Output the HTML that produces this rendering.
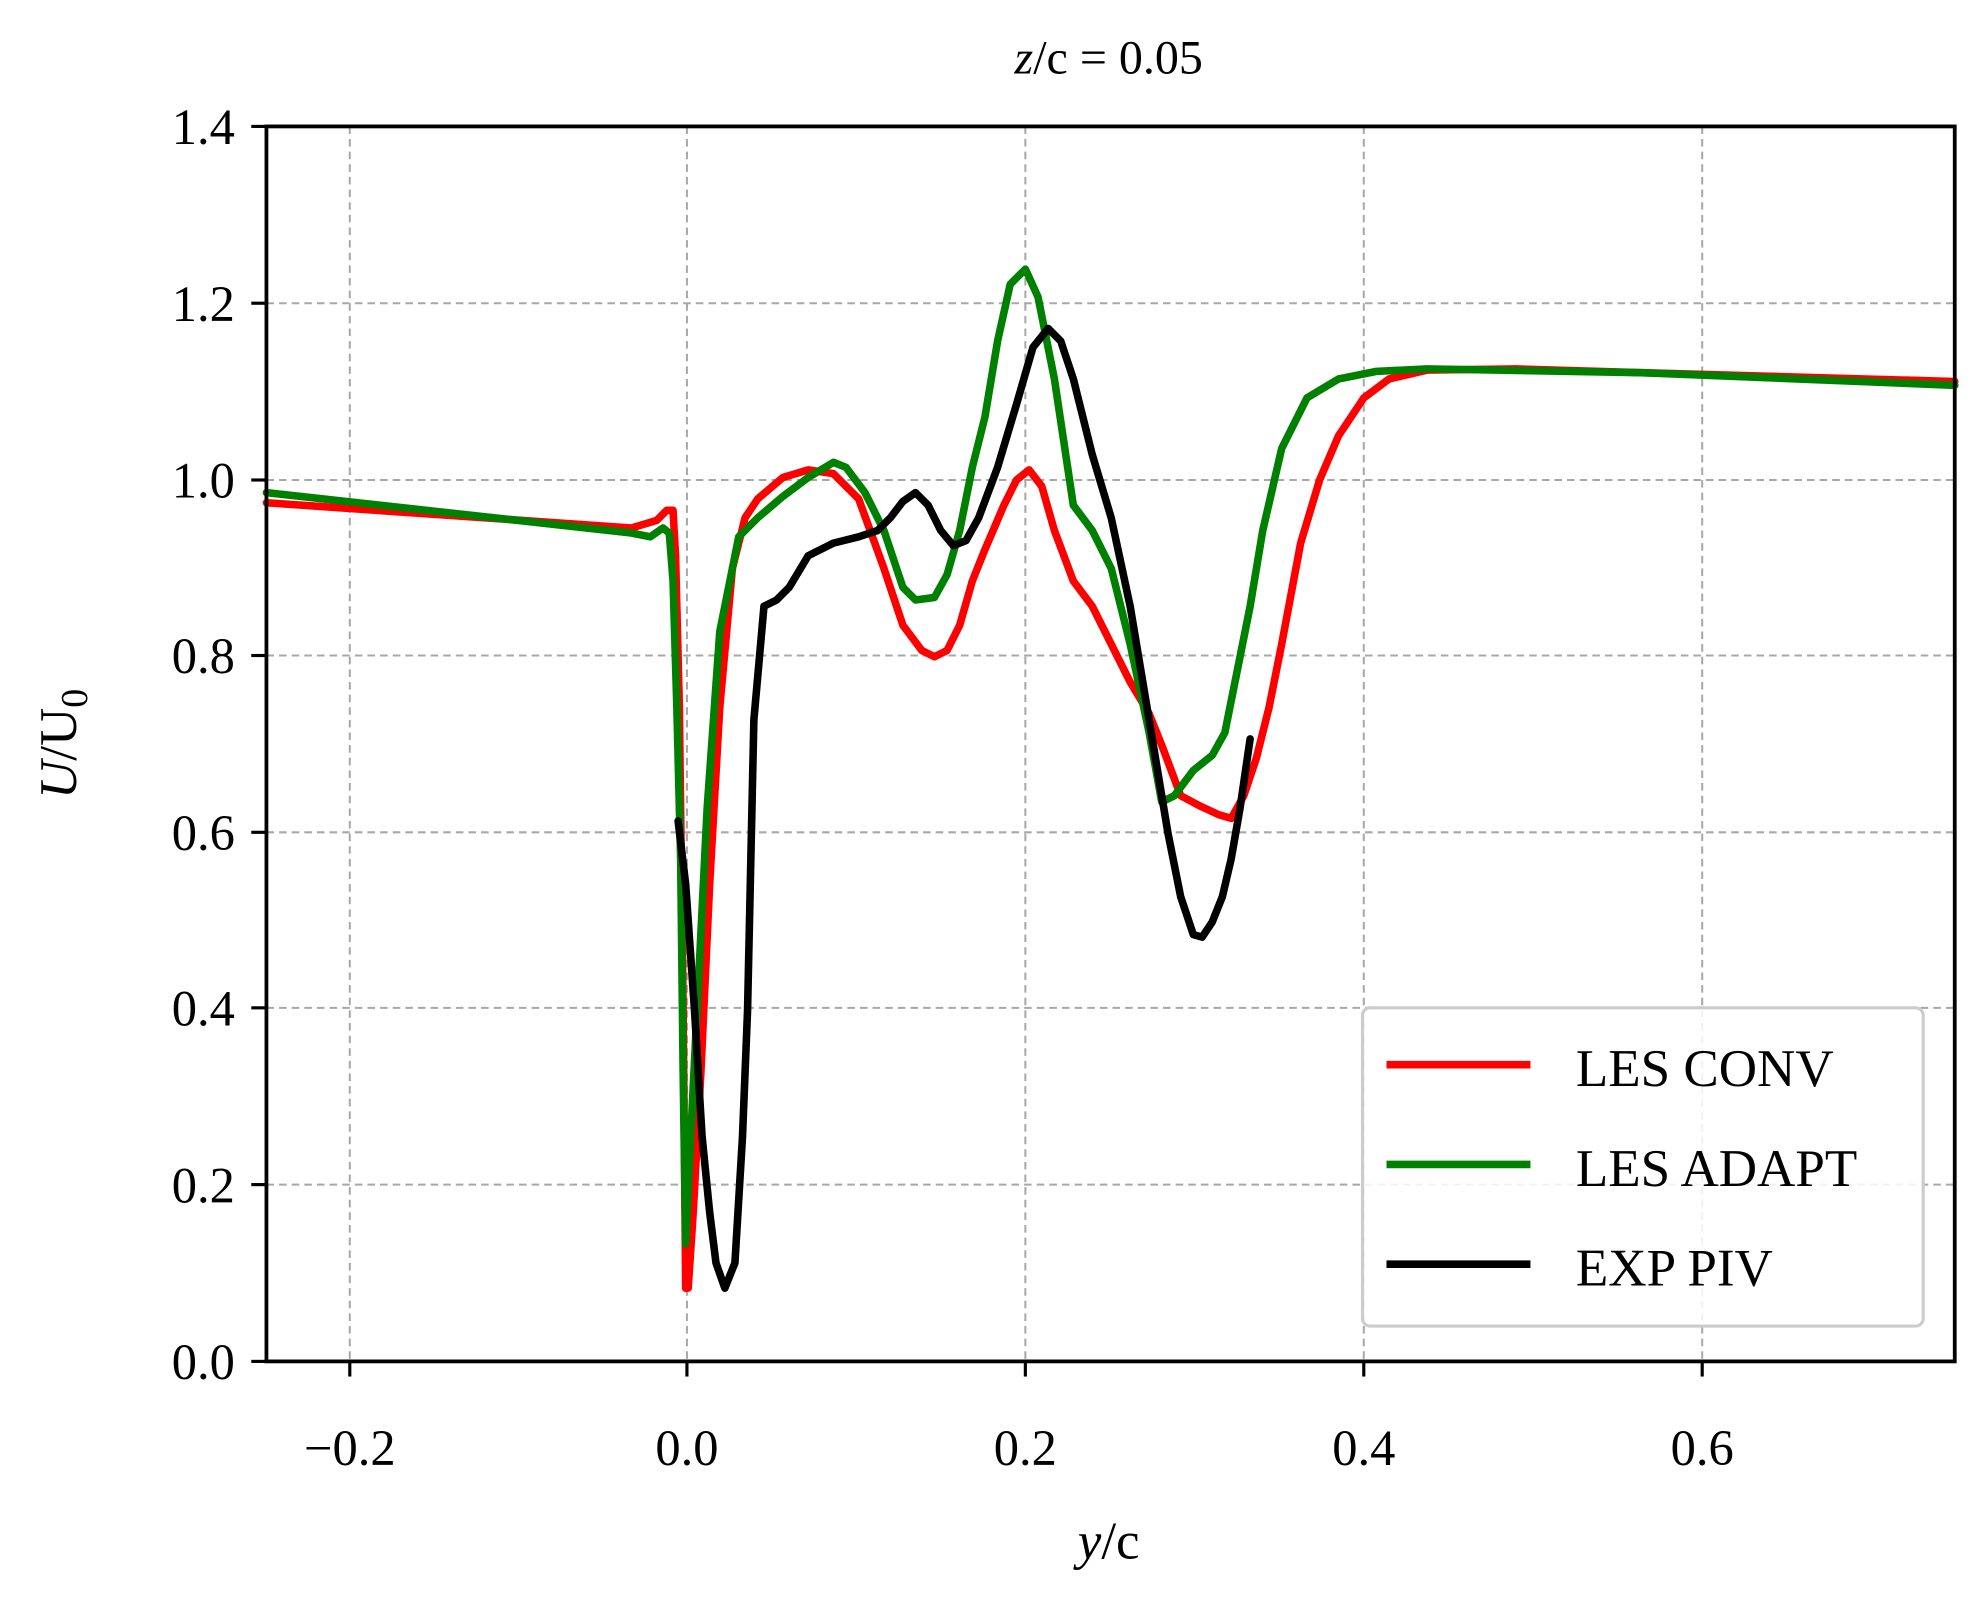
<!DOCTYPE html>
<html><head><style>html,body{margin:0;padding:0;background:#fff}svg{display:block}</style></head>
<body>
<svg width="1980" height="1604" viewBox="0 0 1568 1270" xmlns="http://www.w3.org/2000/svg" font-family="Liberation Serif, serif">
<rect width="1568" height="1270" fill="#fff"/>
<g stroke="#a8a8a8" stroke-width="1.6" stroke-dasharray="6,4">
<line x1="277" y1="100" x2="277" y2="1078"/><line x1="544" y1="100" x2="544" y2="1078"/><line x1="812" y1="100" x2="812" y2="1078"/><line x1="1080" y1="100" x2="1080" y2="1078"/><line x1="1348" y1="100" x2="1348" y2="1078"/>
<line x1="211" y1="240" x2="1548" y2="240"/><line x1="211" y1="380" x2="1548" y2="380"/><line x1="211" y1="519" x2="1548" y2="519"/><line x1="211" y1="659" x2="1548" y2="659"/><line x1="211" y1="798" x2="1548" y2="798"/><line x1="211" y1="938" x2="1548" y2="938"/>
</g>
<g fill="none" stroke-width="6" stroke-linejoin="round" stroke-linecap="round">
<polyline stroke="#ff0000" points="211,398 500,418 520,412 528,404 533,404 535,440 538,560 541,800 543,1020 545,1020 549,960 555,850 562,700 570,560 580,450 590,410 600,395 620,378 640,372 660,375 680,395 700,450 715,495 730,515 740,520 750,515 760,495 770,460 780,435 795,400 805,380 815,372 825,385 835,420 850,460 865,480 880,510 895,540 910,565 920,590 935,630 950,638 965,645 975,648 985,630 995,600 1005,560 1015,510 1030,430 1045,380 1060,345 1080,315 1100,300 1130,293 1200,292 1300,295 1548,302"/>
<polyline stroke="#008000" points="211,390 500,422 515,425 525,418 530,422 533,460 536,560 539,680 541,850 543,985 546,920 552,800 560,640 570,500 585,425 600,410 620,393 640,378 660,366 670,370 685,390 700,420 715,465 725,475 740,473 750,455 760,420 770,370 780,330 790,270 800,225 812,213 822,235 835,300 850,400 865,420 880,450 895,510 910,580 920,635 930,630 945,610 960,598 970,580 980,530 990,480 1000,420 1015,355 1035,315 1060,300 1090,294 1130,292 1300,295 1548,305"/>
<polyline stroke="#000" points="537,650 543,700 550,800 556,900 562,960 567,1000 574,1020 582,1000 588,900 592,800 597,570 605,480 615,475 625,465 640,440 660,430 680,425 695,420 705,410 715,397 725,390 735,400 745,420 755,432 765,428 775,410 790,370 805,320 818,275 830,260 840,270 850,300 865,360 880,410 895,480 905,540 915,600 925,660 935,710 945,740 952,742 960,730 968,710 975,680 982,640 990,585"/>
</g>
<rect x="211" y="100" width="1337" height="978" fill="none" stroke="#000" stroke-width="3"/>
<g stroke="#000" stroke-width="2.5">
<line x1="277" y1="1078" x2="277" y2="1090"/><line x1="544" y1="1078" x2="544" y2="1090"/><line x1="812" y1="1078" x2="812" y2="1090"/><line x1="1080" y1="1078" x2="1080" y2="1090"/><line x1="1348" y1="1078" x2="1348" y2="1090"/>
<line x1="199" y1="100" x2="211" y2="100"/><line x1="199" y1="240" x2="211" y2="240"/><line x1="199" y1="380" x2="211" y2="380"/><line x1="199" y1="519" x2="211" y2="519"/><line x1="199" y1="659" x2="211" y2="659"/><line x1="199" y1="798" x2="211" y2="798"/><line x1="199" y1="938" x2="211" y2="938"/><line x1="199" y1="1078" x2="211" y2="1078"/>
</g>
<g font-size="40" fill="#000" text-anchor="middle">
<text x="277" y="1160">−0.2</text><text x="544" y="1160">0.0</text><text x="812" y="1160">0.2</text><text x="1080" y="1160">0.4</text><text x="1348" y="1160">0.6</text>
</g>
<g font-size="40" fill="#000" text-anchor="end">
<text x="186" y="114">1.4</text><text x="186" y="254">1.2</text><text x="186" y="394">1.0</text><text x="186" y="533">0.8</text><text x="186" y="673">0.6</text><text x="186" y="812">0.4</text><text x="186" y="952">0.2</text><text x="186" y="1092">0.0</text>
</g>
<text x="878" y="58" font-size="38" text-anchor="middle"><tspan font-style="italic">z</tspan>/c = 0.05</text>
<text x="878" y="1234" font-size="42" text-anchor="middle"><tspan font-style="italic">y</tspan>/c</text>
<text transform="translate(60,589) rotate(-90)" font-size="42" text-anchor="middle"><tspan font-style="italic">U</tspan>/U<tspan font-size="30" dy="9">0</tspan></text>
<rect x="1079" y="798" width="444" height="252" rx="6" fill="#fff" fill-opacity="0.85" stroke="#cccccc" stroke-width="2.5"/>
<g stroke-width="6"><line x1="1098" y1="843" x2="1212" y2="843" stroke="#ff0000"/><line x1="1098" y1="922" x2="1212" y2="922" stroke="#008000"/><line x1="1098" y1="1001" x2="1212" y2="1001" stroke="#000"/></g>
<g font-size="42" fill="#000"><text x="1248" y="860">LES CONV</text><text x="1248" y="939">LES ADAPT</text><text x="1248" y="1018">EXP PIV</text></g>
</svg>
</body></html>
